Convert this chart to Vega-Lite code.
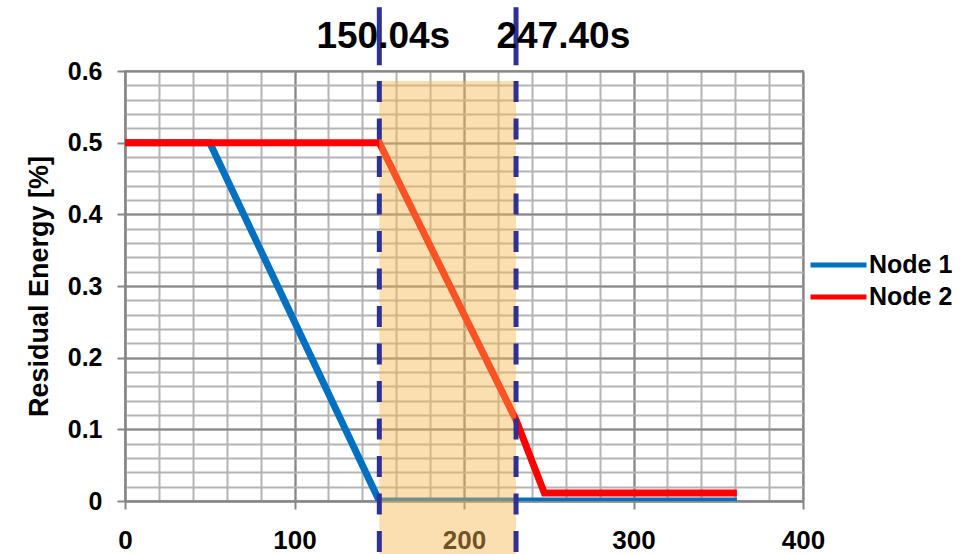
{
  "$schema": "https://vega.github.io/schema/vega-lite/v6.json",
  "width": 678,
  "height": 430,
  "autosize": "none",
  "padding": {"left": 125, "top": 71, "right": 162, "bottom": 53},
  "background": "white",
  "config": {
    "view": {"stroke": "#8a8a8a", "strokeWidth": 2},
    "font": "Liberation Sans"
  },
  "datasets": {
    "energy": [
      {"node": "Node 1", "time": 0, "energy": 0.5},
      {"node": "Node 1", "time": 50, "energy": 0.5},
      {"node": "Node 1", "time": 150.04, "energy": 0},
      {"node": "Node 1", "time": 361, "energy": 0},
      {"node": "Node 2", "time": 0, "energy": 0.5},
      {"node": "Node 2", "time": 150.04, "energy": 0.5},
      {"node": "Node 2", "time": 230.7, "energy": 0.113},
      {"node": "Node 2", "time": 247.4, "energy": 0.011},
      {"node": "Node 2", "time": 361, "energy": 0.011}
    ],
    "window": [{"start": 150.04, "end": 230.7}]
  },
  "layer": [
    {
      "data": {"name": "energy"},
      "mark": {"type": "line", "strokeWidth": 7, "clip": true},
      "encoding": {
        "x": {
          "field": "time", "type": "quantitative",
          "scale": {"domain": [0, 400], "nice": false},
          "axis": {
            "orient": "top", "values": [0,20,40,60,80,100,120,140,160,180,200,220,240,260,280,300,320,340,360,380,400],
            "grid": true, "gridColor": "#b4b4b4", "gridWidth": 2,
            "labels": false, "ticks": false, "domain": false, "title": null
          }
        },
        "y": {
          "field": "energy", "type": "quantitative",
          "scale": {"domain": [0, 0.6], "nice": false},
          "axis": {
            "orient": "right", "values": [0,0.02,0.04,0.06,0.08,0.1,0.12,0.14,0.16,0.18,0.2,0.22,0.24,0.26,0.28,0.3,0.32,0.34,0.36,0.38,0.4,0.42,0.44,0.46,0.48,0.5,0.52,0.54,0.56,0.58,0.6],
            "grid": true, "gridColor": "#b4b4b4", "gridWidth": 2,
            "labels": false, "ticks": false, "domain": false, "title": null
          }
        },
        "color": {
          "field": "node", "type": "nominal",
          "scale": {"domain": ["Node 1", "Node 2"], "range": ["#0070c0", "#ff0000"]},
          "legend": {
            "orient": "none", "legendX": 683, "legendY": 179, "title": null,
            "symbolType": "stroke", "symbolSize": 3136, "symbolStrokeWidth": 5,
            "labelFontSize": 25, "labelFont": "Liberation Sans", "labelFontWeight": "bold",
            "labelColor": "black", "labelOffset": 0, "clipHeight": 30, "rowPadding": 2
          }
        }
      }
    },
    {
      "data": {"name": "window"},
      "mark": {"type": "rect", "color": "#f8b94f", "opacity": 0.45},
      "encoding": {
        "x": {
          "field": "start", "type": "quantitative",
          "axis": {
            "orient": "bottom", "values": [0, 100, 200, 300, 400], "format": "d",
            "grid": true, "gridColor": "#878787", "gridWidth": 2,
            "domainColor": "#878787", "domainWidth": 2,
            "tickColor": "#878787", "tickWidth": 2, "tickSize": 8,
            "labelFontSize": 26, "labelFont": "Liberation Sans", "labelFontWeight": "bold",
            "labelColor": "black", "labelPadding": 18, "labelFlush": false, "title": null
          }
        },
        "x2": {"field": "end"},
        "y": {
          "datum": 0.586, "type": "quantitative",
          "axis": {
            "orient": "left", "values": [0, 0.1, 0.2, 0.3, 0.4, 0.5, 0.6], "format": ".1~f",
            "grid": true, "gridColor": "#878787", "gridWidth": 2,
            "domainColor": "#878787", "domainWidth": 2,
            "tickColor": "#878787", "tickWidth": 2, "tickSize": 8,
            "labelFontSize": 25, "labelFont": "Liberation Sans", "labelFontWeight": "bold",
            "labelColor": "black", "labelPadding": 15,
            "title": "Residual Energy [%]", "titleFontSize": 27, "titleFont": "Liberation Sans",
            "titleFontWeight": "bold", "titleColor": "black", "titlePadding": 14
          }
        },
        "y2": {"datum": -0.074}
      }
    },
    {
      "data": {"name": "window"},
      "transform": [{"fold": ["start", "end"], "as": ["edge", "t"]}],
      "mark": {"type": "rule", "color": "#2e3192", "strokeWidth": 5, "strokeDash": [21, 16.5]},
      "encoding": {
        "x": {"field": "t", "type": "quantitative", "axis": null},
        "y": {"datum": 0.586, "type": "quantitative", "axis": null},
        "y2": {"datum": -0.074}
      }
    },
    {
      "data": {"name": "window"},
      "transform": [{"fold": ["start", "end"], "as": ["edge", "t"]}],
      "mark": {"type": "rule", "color": "#2e3192", "strokeWidth": 5},
      "encoding": {
        "x": {"field": "t", "type": "quantitative", "axis": null},
        "y": {"datum": 0.689, "type": "quantitative", "axis": null},
        "y2": {"datum": 0.608}
      }
    },
    {
      "data": {"values": [{"t": 150.04, "label": "150.04s"}]},
      "mark": {"type": "text", "fontSize": 37, "fontWeight": "bold", "font": "Liberation Sans", "color": "black", "align": "center", "baseline": "alphabetic", "dx": 4},
      "encoding": {
        "x": {"field": "t", "type": "quantitative", "axis": null},
        "y": {"datum": 0.632, "type": "quantitative", "axis": null},
        "text": {"field": "label"}
      }
    },
    {
      "data": {"values": [{"t": 247.4, "label": "247.40s"}]},
      "mark": {"type": "text", "fontSize": 37, "fontWeight": "bold", "font": "Liberation Sans", "color": "black", "align": "center", "baseline": "alphabetic", "dx": 19},
      "encoding": {
        "x": {"field": "t", "type": "quantitative", "axis": null},
        "y": {"datum": 0.632, "type": "quantitative", "axis": null},
        "text": {"field": "label"}
      }
    }
  ],
  "resolve": {"axis": {"x": "independent", "y": "independent"}}
}
